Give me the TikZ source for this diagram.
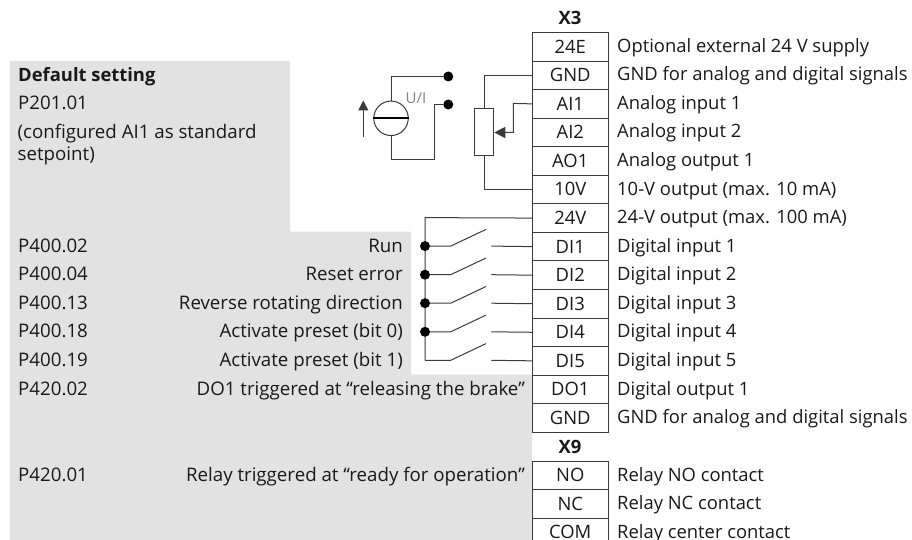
\documentclass[tikz,border=0pt]{standalone}
\usepackage{fontspec}
\setmainfont{Open Sans}
\usetikzlibrary{arrows.meta}
\definecolor{panelgray}{HTML}{E2E2E2}
\definecolor{wire}{HTML}{3A3A3A}
\tikzset{
  x=1pt,y=-1pt,
  every node/.style={font=\fontsize{18.4}{22}\selectfont,text=black!90,inner sep=0pt,text height=16.8pt,text depth=4pt},
  pin/.style={draw=wire,line width=1pt,fill=white,minimum width=75.5pt,minimum height=28.55pt,anchor=north west,align=center},
  desc/.style={anchor=west,yshift=0.3pt},
  par/.style={anchor=west,yshift=0.3pt,font=\fontsize{18.7}{22}\selectfont},
  act/.style={anchor=east,yshift=0.3pt,font=\fontsize{18.7}{22}\selectfont},
  head/.style={font=\fontsize{18.4}{22}\selectfont\bfseries},
  wireline/.style={draw=wire,line width=1pt},
  dot/.style={circle,fill=black,minimum size=10pt,inner sep=0pt,text height=,text depth=},
}
\begin{document}
\begin{tikzpicture}
\useasboundingbox (0,0) rectangle (912,540);
\fill[panelgray] (10,61) -- (290,61) -- (290,231.7) -- (411,231.7) -- (411,374.3) -- (532,374.3) -- (532,540) -- (10,540) -- cycle;
\node[head] (x3) at (570,18.5) {X3};
\node[pin] (r24E) at (532,32) {24E};
\node[pin] (rGNDa) at (532,60.55) {GND};
\node[pin] (rAIa) at (532,89.1) {AI1};
\node[pin] (rAIb) at (532,117.65) {AI2};
\node[pin] (rAO) at (532,146.2) {AO1};
\node[pin] (rTen) at (532,174.75) {10V};
\node[pin] (rTwf) at (532,203.3) {24V};
\node[pin] (rDIa) at (532,231.85) {DI1};
\node[pin] (rDIb) at (532,260.4) {DI2};
\node[pin] (rDIc) at (532,288.95) {DI3};
\node[pin] (rDId) at (532,317.5) {DI4};
\node[pin] (rDIe) at (532,346.05) {DI5};
\node[pin] (rDO) at (532,374.6) {DO1};
\node[pin] (rGNDb) at (532,403.15) {GND};
\node[head] (x9) at (570,447.5) {X9};
\node[pin] (rNO) at (532,460.6) {NO};
\node[pin] (rNC) at (532,489.15) {NC};
\begin{scope}
\clip (0,0) rectangle (912,540);
\node[pin] (rCOM) at (532,517.7) {COM};
\end{scope}
\node[desc] (d1) at (617,46.3) {Optional external 24 V supply};
\node[desc] (d2) at (617,74.8) {GND for analog and digital signals};
\node[desc] (d3) at (617,103.4) {Analog input 1};
\node[desc] (d4) at (617,131.9) {Analog input 2};
\node[desc] (d5) at (617,160.5) {Analog output 1};
\node[desc] (d6) at (617,189) {10-V output (max. 10 mA)};
\node[desc] (d7) at (617,217.6) {24-V output (max. 100 mA)};
\node[desc] (d8) at (617,246.1) {Digital input 1};
\node[desc] (d9) at (617,274.7) {Digital input 2};
\node[desc] (d10) at (617,303.2) {Digital input 3};
\node[desc] (d11) at (617,331.8) {Digital input 4};
\node[desc] (d12) at (617,360.3) {Digital input 5};
\node[desc] (d13) at (617,388.9) {Digital output 1};
\node[desc] (d14) at (617,417.4) {GND for analog and digital signals};
\node[desc] (d15) at (617,474.9) {Relay NO contact};
\node[desc] (d16) at (617,503.4) {Relay NC contact};
\node[desc] (d17) at (617,532) {Relay center contact};
\node[par,head] (ds) at (18,75) {Default setting};
\node[par] (p0) at (18,103) {P201.01};
\node[par] (p1) at (17.5,132.2) {(configured AI1 as standard};
\node[par] (p2) at (17.5,154.5) {setpoint)};
\node[par] (p3) at (18,246.1) {P400.02};
\node[par] (p4) at (18,274.7) {P400.04};
\node[par] (p5) at (18,303.2) {P400.13};
\node[par] (p6) at (18,331.8) {P400.18};
\node[par] (p7) at (18,360.3) {P400.19};
\node[par] (p8) at (18,388.9) {P420.02};
\node[par] (p9) at (18,474.9) {P420.01};
\node[act] (a1) at (403,246.1) {Run};
\node[act] (a2) at (403,274.7) {Reset error};
\node[act] (a3) at (403,303.2) {Reverse rotating direction};
\node[act] (a4) at (403,331.8) {Activate preset (bit 0)};
\node[act] (a5) at (403,360.3) {Activate preset (bit 1)};
\node[act] (a6) at (525,388.9) {DO1 triggered at “releasing the brake”};
\node[act] (a7) at (525,474.9) {Relay triggered at “ready for operation”};
% source
\node[dot] (ta) at (448.3,76.5) {};
\node[dot] (tb) at (448.3,104.5) {};
\node[circle,draw=wire,line width=1pt,fill=white,minimum size=34.5pt,inner sep=0pt,text height=,text depth=] (src) at (391,118.3) {};
\draw[black,line width=2.2pt] (src.west) -- (src.east);
\node[text=black!50,font=\fontsize{15}{18}\selectfont,text height=10.7pt,text depth=0pt] (ui) at (416,98.3) {U/I};
\draw[wireline] (src.north) |- (ta);
\draw[wireline] (src.south) -- (391,160) -- (434.3,160) -- (434.3,104.5) -- (tb);
\coordinate (ara) at (363.3,136.7);
\coordinate (arb) at (363.3,100.5);
\draw[wireline,-{Triangle[length=10pt,width=10pt]}] (ara) -- (arb);
% potentiometer
\node[draw=wire,line width=1pt,fill=white,minimum width=19.6pt,minimum height=47pt,inner sep=0pt,text height=,text depth=] (pot) at (484,132.5) {};
\draw[wireline] (pot.north) |- (rGNDa.west);
\draw[wireline] (pot.south) |- (rTen.west);
\draw[wireline,-{Triangle[length=11pt,width=11pt]}] (rAIa.west) -- (513.3,103.4) -- (513.3,132.5) -- (pot.east);
% switches
\coordinate (top) at (425,217.6);
\coordinate (e) at (425,360.3);
\draw[wireline] (rTwf.west) -- (top) -- (e);
\foreach \n/\y/\r in {sa/246.1/rDIa,sb/274.7/rDIb,sc/303.2/rDIc,sd/331.8/rDId}{
  \node[dot] (\n) at (425,\y) {};
  \coordinate (k\n) at (450.7,\y);
  \coordinate (t\n) at (486,\y-16.7);
  \coordinate (f\n) at (491.3,\y);
  \draw[wireline] (\n) -- (k\n) -- (t\n);
  \draw[wireline] (f\n) -- (\r.west);
}
\coordinate (kse) at (450.7,360.3);
\coordinate (tse) at (486,343.6);
\coordinate (fse) at (491.3,360.3);
\draw[wireline] (e) -- (kse) -- (tse);
\draw[wireline] (fse) -- (rDIe.west);
\end{tikzpicture}
\end{document}
